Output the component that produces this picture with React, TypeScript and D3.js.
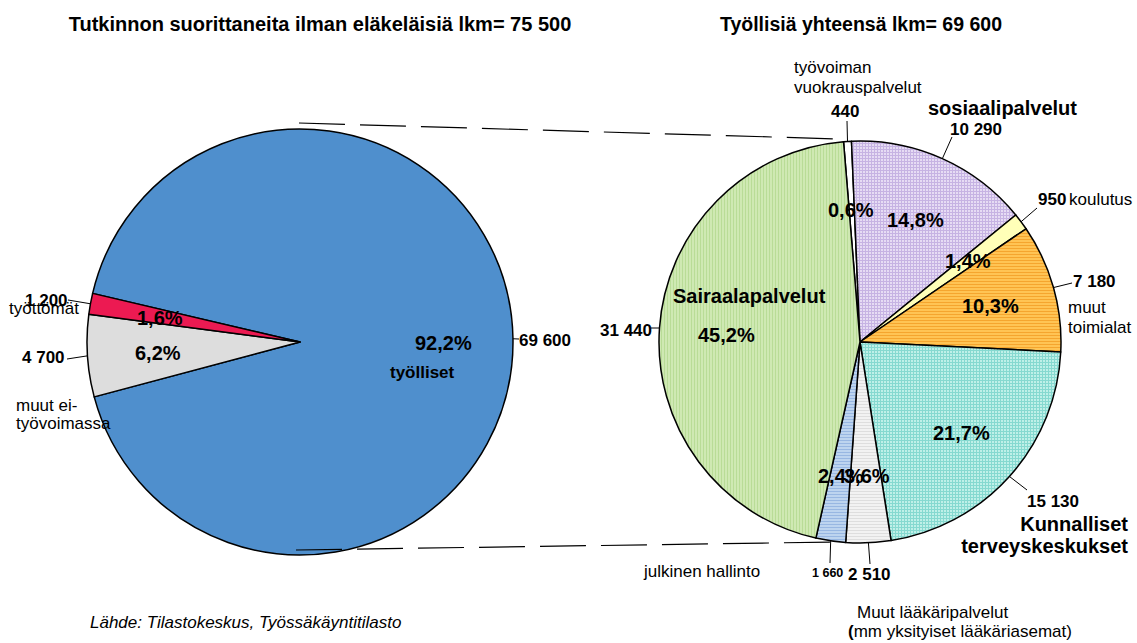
import React, { useEffect, useRef } from 'react'
import * as d3 from 'd3'

// left pie: all graduates without pensioners
const leftCategories = ['työlliset', 'muut ei-työvoimassa', 'työttömät']
const leftValues = [69600, 4700, 1200]

// right pie: employed by industry
const rightCategories = [
  'työvoiman vuokrauspalvelut',
  'sosiaalipalvelut',
  'koulutus',
  'muut toimialat',
  'Kunnalliset terveyskeskukset',
  'Muut lääkäripalvelut',
  'julkinen hallinto',
  'Sairaalapalvelut',
]
const rightValues = [440, 10290, 950, 7180, 15130, 2510, 1660, 31440]

const leftTitle = 'Tutkinnon suorittaneita ilman eläkeläisiä lkm= 75 500'
const rightTitle = 'Työllisiä yhteensä lkm= 69 600'
const source = 'Lähde: Tilastokeskus, Työssäkäyntitilasto'

const FONT = 'Liberation Sans, Arial, Helvetica, sans-serif'

const fmtNum = (v: number) => d3.format(',')(v).replace(/,/g, ' ')
const fmtPct = (v: number, total: number) => d3.format('.1f')((v / total) * 100).replace('.', ',') + '%'

// label layout (hand placed like the original)
const leftLayout = [
  { pct: [415, 350], val: [519, 346], valEnd: [519, 339], names: [{ t: 'työlliset', x: 390, y: 378, bold: true }] },
  { pct: [135, 360], val: [22, 363], valEnd: [67, 359], names: [{ t: 'muut ei-', x: 16, y: 411 }, { t: 'työvoimassa', x: 16, y: 429 }] },
  { pct: [137, 325], val: [25, 306], valEnd: [68, 300], names: [{ t: 'työttömät', x: 9, y: 314 }] },
]

const rightLayout = [
  { pct: [828, 217], val: [831, 117], valEnd: [847, 121], names: [{ t: 'työvoiman', x: 794, y: 73 }, { t: 'vuokrauspalvelut', x: 794, y: 93 }] },
  { pct: [887, 227], val: [950, 135], valEnd: [952, 137], names: [{ t: 'sosiaalipalvelut', x: 928, y: 115, bold: true, big: true }] },
  { pct: [945, 268], val: [1038, 205], valEnd: [1037, 208], names: [{ t: 'koulutus', x: 1069, y: 205 }] },
  { pct: [962, 313], val: [1073, 287], valEnd: [1072, 283], names: [{ t: 'muut', x: 1068, y: 313 }, { t: 'toimialat', x: 1068, y: 333 }] },
  { pct: [933, 440], val: [1027, 507], valEnd: [1027, 490], names: [{ t: 'Kunnalliset', x: 1128, y: 531, bold: true, big: true, end: true }, { t: 'terveyskeskukset', x: 1128, y: 553, bold: true, big: true, end: true }] },
  { pct: [844, 483], val: [848, 580], valEnd: [870, 564], names: [{ t: 'Muut lääkäripalvelut', x: 857, y: 618 }, { t: 'mm yksityiset lääkäriasemat)', x: 848, y: 637, paren: true }] },
  { pct: [818, 483], val: [812, 577], valEnd: [830, 563], small: true, names: [{ t: 'julkinen hallinto', x: 644, y: 577 }] },
  { pct: [698, 342], val: [652, 336], valEnd: [651, 328], end: true, names: [{ t: 'Sairaalapalvelut', x: 673, y: 303, bold: true, big: true }] },
]

const leftFills = ['#4f8fcd', '#dddddd', '#ec1a52']
const rightFills = ['#ffffff', 'url(#pLav)', '#ffffb8', 'url(#pOra)', 'url(#pTeal)', 'url(#pGray)', 'url(#pBlue)', 'url(#pGreen)']

const App = () => {
  const ref = useRef<SVGSVGElement>(null)

  useEffect(() => {
    const svg = d3.select(ref.current)
    svg.selectAll('*').remove()

    const defs = svg.append('defs')
    const stripes = (id: string, base: string, line: string, dir: 'h' | 'v' | 'grid') => {
      const p = defs.append('pattern').attr('id', id).attr('patternUnits', 'userSpaceOnUse')
        .attr('width', 3).attr('height', 3)
      p.append('rect').attr('width', 3).attr('height', 3).attr('fill', base)
      if (dir !== 'v') p.append('rect').attr('y', 2).attr('width', 3).attr('height', 1).attr('fill', line)
      if (dir !== 'h') p.append('rect').attr('x', 2).attr('width', 1).attr('height', 3).attr('fill', line)
    }
    stripes('pGreen', '#cfe9b3', '#b9dc97', 'v')
    stripes('pLav', '#e6dcf4', '#c6b3e3', 'grid')
    stripes('pOra', '#ffc454', '#f5a52e', 'h')
    stripes('pTeal', '#bff0e8', '#86d9d0', 'grid')
    stripes('pBlue', '#bdd4ef', '#98b7e2', 'h')
    stripes('pGray', '#f2f2f2', '#dedede', 'h')

    const txt = (x: number, y: number, t: string, size: number, bold = false, anchor = 'start', italic = false) =>
      svg.append('text').attr('x', x).attr('y', y).attr('font-family', FONT)
        .attr('font-size', size).attr('font-weight', bold ? 'bold' : 'normal')
        .attr('font-style', italic ? 'italic' : 'normal')
        .attr('text-anchor', anchor).attr('fill', '#000').text(t)

    const drawPie = (values: number[], cx: number, cy: number, r: number, start: number,
      fills: string[], layout: any[]) => {
      const total = d3.sum(values)
      const pie = d3.pie<number>().sort(null).startAngle(start).endAngle(start + 2 * Math.PI)
      const arcs = pie(values)
      const arc = d3.arc<d3.PieArcDatum<number>>().innerRadius(0).outerRadius(r)
      const g = svg.append('g').attr('transform', `translate(${cx},${cy})`)
      g.selectAll('path').data(arcs).enter().append('path')
        .attr('d', arc)
        .attr('fill', (d, i) => fills[i])
        .attr('stroke', '#000').attr('stroke-width', 1.5).attr('stroke-linejoin', 'round')

      arcs.forEach((a, i) => {
        const L = layout[i]
        const mid = (a.startAngle + a.endAngle) / 2
        const px = cx + r * Math.sin(mid)
        const py = cy - r * Math.cos(mid)
        svg.append('line').attr('x1', px).attr('y1', py).attr('x2', L.valEnd[0]).attr('y2', L.valEnd[1])
          .attr('stroke', '#000').attr('stroke-width', 1)
        txt(L.val[0], L.val[1], fmtNum(values[i]), L.small ? 12.5 : 17, true, L.end ? 'end' : 'start')
        L.names.forEach((n: any) => {
          const t = txt(n.x, n.y, n.paren ? '' : n.t, n.big ? 20 : 17, !!n.bold, n.end ? 'end' : 'start')
          if (n.paren) {
            t.append('tspan').attr('font-weight', 'bold').text('(')
            t.append('tspan').text(n.t)
          }
        })
      })
      arcs.forEach((a, i) => {
        const L = layout[i]
        txt(L.pct[0], L.pct[1], fmtPct(values[i], total), 20, true)
      })
    }

    drawPie(leftValues, 300, 342, 213, (-76.8 * Math.PI) / 180, leftFills, leftLayout)
    drawPie(rightValues, 860, 342, 201, (-4.7 * Math.PI) / 180, rightFills, rightLayout)

    // connector dashed lines between the pies
    svg.append('line').attr('x1', 299).attr('y1', 123).attr('x2', 840).attr('y2', 139)
      .attr('stroke', '#000').attr('stroke-width', 1.2).attr('stroke-dasharray', '46 15')
    svg.append('line').attr('x1', 296).attr('y1', 550).attr('x2', 836).attr('y2', 542)
      .attr('stroke', '#000').attr('stroke-width', 1.2).attr('stroke-dasharray', '46 15')

    txt(320, 31, leftTitle, 20, true, 'middle')
    txt(861, 31, rightTitle, 19.5, true, 'middle')
    txt(90, 628, source, 17, false, 'start', true)
  }, [])

  return (
    <svg ref={ref} width={1137} height={643}
      style={{ position: 'absolute', left: 0, top: 0, background: '#fff' }} />
  )
}

export default App
